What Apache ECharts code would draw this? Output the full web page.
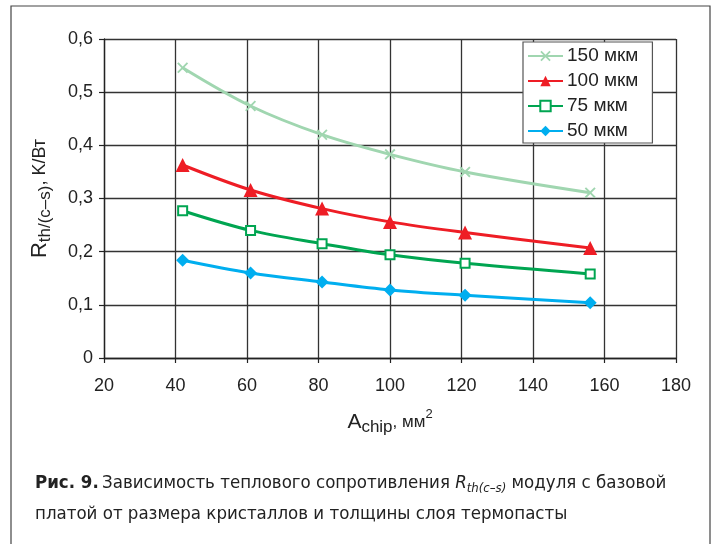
<!DOCTYPE html>
<html>
<head>
<meta charset="utf-8">
<script src="https://cdn.jsdelivr.net/npm/echarts@6/dist/echarts.min.js"></script>
<style>
html,body{margin:0;padding:0;background:#fff;}
#c{width:716px;height:544px;}
</style>
</head>
<body>
<div id="c"></div>
<script>
// Data
const chipArea = [42, 61, 81, 100, 121, 156];
const r150 = [0.546, 0.474, 0.420, 0.383, 0.350, 0.311];
const r100 = [0.363, 0.316, 0.281, 0.256, 0.236, 0.207];
const r75  = [0.277, 0.240, 0.215, 0.194, 0.178, 0.158];
const r50  = [0.184, 0.160, 0.143, 0.128, 0.118, 0.104];
const seriesNames = ['150 мкм', '100 мкм', '75 мкм', '50 мкм'];
const xTicks = [20, 40, 60, 80, 100, 120, 140, 160, 180];
const yTicks = [0, 0.1, 0.2, 0.3, 0.4, 0.5, 0.6];

const FONT = "'Liberation Sans', Arial, sans-serif";
const NARROW = "'Liberation Sans Narrow', 'DejaVu Sans Condensed', 'Liberation Sans', sans-serif";
const pair = arr => chipArea.map((x, i) => [x, arr[i]]);

const xMark = 'path://M0,1.2L1.2,0L5,3.8L8.8,0L10,1.2L6.2,5L10,8.8L8.8,10L5,6.2L1.2,10L0,8.8L3.8,5Z';

const chart = echarts.init(document.getElementById('c'), null, {renderer: 'canvas'});
chart.setOption({
  animation: false,
  backgroundColor: '#fff',
  grid: {left: 104, right: 40, top: 39, bottom: 186, containLabel: false},
  xAxis: {
    type: 'value', min: xTicks[0], max: xTicks[xTicks.length - 1], interval: 20,
    axisLine: {lineStyle: {color: '#222', width: 1.3}},
    axisTick: {show: true, inside: false, length: 5, lineStyle: {color: '#222', width: 1.2}},
    axisLabel: {color: '#222', fontSize: 18, fontFamily: FONT, margin: 19},
    splitLine: {show: true, lineStyle: {color: '#333', width: 1.3}},
    name: '{a|A}{s|chip}{b|, мм}{p|2}',
    nameLocation: 'middle', nameGap: 50,
    nameTextStyle: {
      color: '#222', fontFamily: FONT,
      rich: {
        a: {fontSize: 21, fontFamily: FONT, color: '#222', lineHeight: 28, verticalAlign: 'middle'},
        s: {fontSize: 17, fontFamily: FONT, color: '#222', lineHeight: 14, verticalAlign: 'bottom'},
        b: {fontSize: 17, fontFamily: FONT, color: '#222', lineHeight: 28, verticalAlign: 'middle'},
        p: {fontSize: 13, fontFamily: FONT, color: '#222', lineHeight: 12, verticalAlign: 'top'}
      }
    }
  },
  yAxis: {
    type: 'value', min: yTicks[0], max: yTicks[yTicks.length - 1], interval: 0.1,
    axisLine: {show: true, lineStyle: {color: '#222', width: 1.3}},
    axisTick: {show: true, inside: false, length: 5, lineStyle: {color: '#222', width: 1.2}},
    axisLabel: {color: '#222', fontSize: 18, fontFamily: FONT, margin: 11,
      formatter: v => String(Math.round(v * 10) / 10).replace('.', ',')},
    splitLine: {show: true, lineStyle: {color: '#333', width: 1.3}},
    name: '{a|R}{s|th/(c–s)}{b|, K/Вт}',
    nameLocation: 'middle', nameGap: 50, nameRotate: 90,
    nameTextStyle: {
      color: '#222', fontFamily: FONT,
      rich: {
        a: {fontSize: 22, fontFamily: FONT, color: '#222', lineHeight: 28, verticalAlign: 'middle'},
        s: {fontSize: 17, fontFamily: FONT, color: '#222', lineHeight: 14, verticalAlign: 'bottom'},
        b: {fontSize: 18, fontFamily: FONT, color: '#222', lineHeight: 28, verticalAlign: 'middle'}
      }
    }
  },
  legend: {
    orient: 'vertical', left: 523, top: 42,
    data: seriesNames,
    backgroundColor: '#fff', borderColor: '#555', borderWidth: 1.2,
    padding: [4, 14, 2, 4], itemGap: 5, itemWidth: 35, itemHeight: 13,
    textStyle: {color: '#222', fontSize: 19, fontFamily: FONT, lineHeight: 20, padding: [0, 0, 0, -1]}
  },
  graphic: [
    {type: 'rect', shape: {x: 11, y: 6, width: 699, height: 560}, silent: true, z: -10,
      style: {fill: 'none', stroke: '#444', lineWidth: 1.2}},
    {type: 'text', left: 35, top: 474, silent: true,
      style: {
        text: '{bd|Рис. 9.} {n|Зависимость теплового сопротивления }{it|R}{is|th(c–s)}{n| модуля с базовой}',
        rich: {
          bd: {fontFamily: NARROW, fontWeight: 'bold', fontSize: 18.5, fill: '#222', lineHeight: 24, verticalAlign: 'middle'},
          n: {fontFamily: NARROW, fontSize: 18.5, fill: '#222', lineHeight: 24, verticalAlign: 'middle'},
          it: {fontFamily: NARROW, fontStyle: 'italic', fontSize: 18.5, fill: '#222', lineHeight: 24, verticalAlign: 'middle'},
          is: {fontFamily: NARROW, fontStyle: 'italic', fontSize: 13, fill: '#222', lineHeight: 12, verticalAlign: 'bottom'}
        }
      }},
    {type: 'text', left: 35, top: 505, silent: true,
      style: {text: 'платой от размера кристаллов и толщины слоя термопасты',
        fontFamily: NARROW, fontSize: 18.5, fill: '#222'}}
  ],
  series: [
    {name: seriesNames[0], type: 'line', data: pair(r150), smooth: 0.35,
      symbol: xMark, symbolSize: 11,
      lineStyle: {color: '#a0d6b0', width: 3}, itemStyle: {color: '#a0d6b0'}, z: 2},
    {name: seriesNames[1], type: 'line', data: pair(r100), smooth: 0.35,
      symbol: 'triangle', symbolSize: 14,
      lineStyle: {color: '#ee1d25', width: 3}, itemStyle: {color: '#ee1d25'}, z: 3},
    {name: seriesNames[2], type: 'line', data: pair(r75), smooth: 0.35,
      symbol: 'rect', symbolSize: 9,
      lineStyle: {color: '#00a551', width: 3},
      itemStyle: {color: '#fff', borderColor: '#00a551', borderWidth: 2}, z: 4},
    {name: seriesNames[3], type: 'line', data: pair(r50), smooth: 0.35,
      symbol: 'diamond', symbolSize: 13,
      lineStyle: {color: '#00aeef', width: 3}, itemStyle: {color: '#00aeef'}, z: 5}
  ]
});
</script>
</body>
</html>
